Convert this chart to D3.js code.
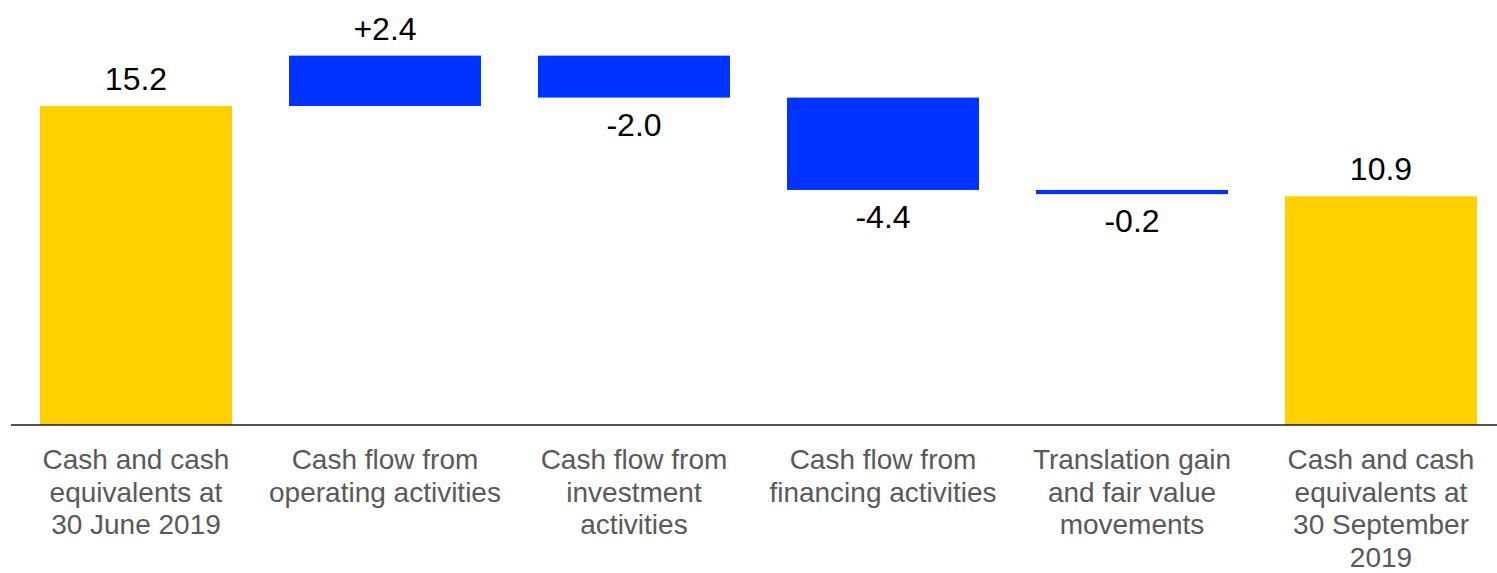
<!DOCTYPE html>
<html>
<head>
<meta charset="utf-8">
<script src="https://cdn.jsdelivr.net/npm/d3@7"></script>
<style>
  html, body { margin: 0; padding: 0; background: #fff; }
  svg { display: block; }
  text { font-family: "Liberation Sans", Arial, sans-serif; }
</style>
</head>
<body>
<svg id="chart" width="1497" height="573"></svg>
<script>
// Cash movement bridge, EUR bn
const categories = [
  ["Cash and cash", "equivalents at", "30 June 2019"],
  ["Cash flow from", "operating activities"],
  ["Cash flow from", "investment", "activities"],
  ["Cash flow from", "financing activities"],
  ["Translation gain", "and fair value", "movements"],
  ["Cash and cash", "equivalents at", "30 September", "2019"]
];
const kinds = ["total", "delta", "delta", "delta", "delta", "total"];
const values = [15.2, 2.4, -2.0, -4.4, -0.2, 10.9];
const valueLabels = ["15.2", "+2.4", "-2.0", "-4.4", "-0.2", "10.9"];

const W = 1497, H = 573;
const baseY = 425;
const svg = d3.select("#chart");

// running start/end for each step of the bridge
let running = 0;
const bars = values.map((v, i) => {
  let start, end;
  if (kinds[i] === "total") { start = 0; end = v; running = v; }
  else { start = running; end = running + v; running = end; }
  return { i, v, start, end, label: valueLabels[i], lines: categories[i], kind: kinds[i] };
});

const x = d3.scaleBand()
  .domain(d3.range(categories.length))
  .range([40, 1477])
  .paddingInner(0.229)
  .paddingOuter(0);

const y = d3.scaleLinear()
  .domain([0, 15.2])
  .range([baseY, 106]);

const colors = { total: "#FFD100", delta: "#0033FF" };

svg.append("g").selectAll("rect")
  .data(bars)
  .join("rect")
  .attr("x", d => x(d.i))
  .attr("width", x.bandwidth())
  .attr("y", d => y(Math.max(d.start, d.end)))
  .attr("height", d => Math.abs(y(d.start) - y(d.end)))
  .attr("fill", d => colors[d.kind]);

// baseline
svg.append("line")
  .attr("x1", 11).attr("x2", W)
  .attr("y1", baseY).attr("y2", baseY)
  .attr("stroke", "#1a1a1a")
  .attr("stroke-width", 1.5);

// value labels: above rising/total bars, below falling bars
svg.append("g").selectAll("text")
  .data(bars)
  .join("text")
  .attr("x", d => x(d.i) + x.bandwidth() / 2)
  .attr("y", d => d.v >= 0 ? y(Math.max(d.start, d.end)) - 16
                           : y(Math.min(d.start, d.end)) + 38)
  .attr("text-anchor", "middle")
  .attr("font-size", 32)
  .attr("fill", "#000")
  .text(d => d.label);

// category labels
const cat = svg.append("g").selectAll("text")
  .data(bars)
  .join("text")
  .attr("x", d => x(d.i) + x.bandwidth() / 2)
  .attr("y", 469)
  .attr("text-anchor", "middle")
  .attr("font-size", 28)
  .attr("fill", "#595959");

cat.selectAll("tspan")
  .data(d => d.lines.map(t => ({ t, cx: x(d.i) + x.bandwidth() / 2 })))
  .join("tspan")
  .attr("x", t => t.cx)
  .attr("dy", (t, j) => j === 0 ? 0 : 32.6)
  .text(t => t.t);
</script>
</body>
</html>
